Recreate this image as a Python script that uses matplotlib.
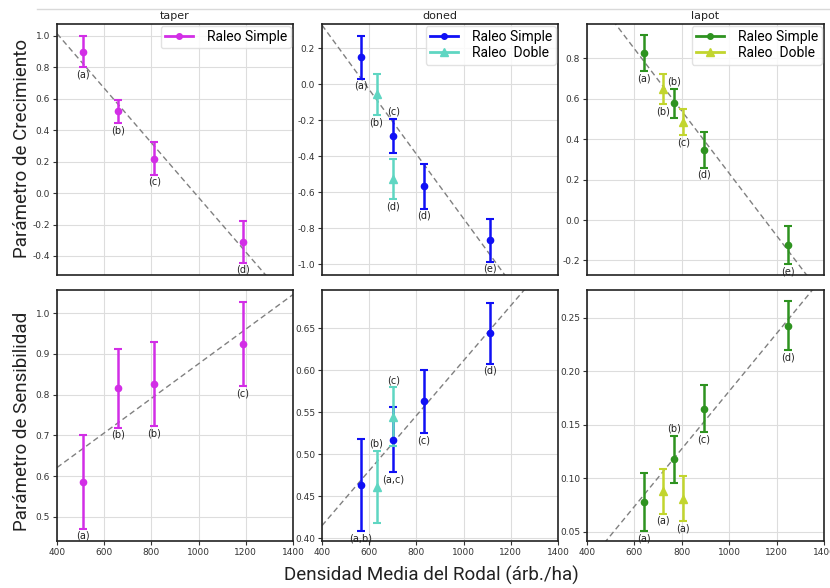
import matplotlib
matplotlib.use('Agg')
import matplotlib.pyplot as plt
from matplotlib.lines import Line2D
import numpy as np

# --- data (densidad media del rodal, arb./ha) ---
dens_taper = [510, 660, 813, 1188]
dens_doned_simple = [565, 702, 832, 1111]
dens_doned_doble = [631, 702]
dens_lapot_simple = [641, 766, 893, 1246]
dens_lapot_doble = [721, 806]

# parametro de crecimiento
crec_taper = [0.90, 0.52, 0.22, -0.31]
crec_taper_err = [0.10, 0.075, 0.104, 0.133]
crec_taper_lbl = ['(a)', '(b)', '(c)', '(d)']
crec_taper_side = ['below', 'below', 'below', 'below']

crec_doned_simple = [0.150, -0.287, -0.567, -0.869]
crec_doned_simple_err = [0.12, 0.095, 0.125, 0.118]
crec_doned_simple_lbl = ['(a)', '(c)', '(d)', '(e)']
crec_doned_simple_side = ['below', 'above', 'below', 'below']
crec_doned_doble = [-0.057, -0.528]
crec_doned_doble_err = [0.115, 0.11]
crec_doned_doble_lbl = ['(b)', '(d)']
crec_doned_doble_side = ['below', 'below']

crec_lapot_simple = [0.825, 0.577, 0.346, -0.124]
crec_lapot_simple_err = [0.09, 0.072, 0.088, 0.096]
crec_lapot_simple_lbl = ['(a)', '(b)', '(d)', '(e)']
crec_lapot_simple_side = ['below', 'above', 'below', 'below']
crec_lapot_doble = [0.649, 0.484]
crec_lapot_doble_err = [0.076, 0.065]
crec_lapot_doble_lbl = ['(b)', '(c)']
crec_lapot_doble_side = ['below', 'below']

# parametro de sensibilidad
sens_taper = [0.586, 0.816, 0.826, 0.924]
sens_taper_err = [0.115, 0.097, 0.103, 0.103]
sens_taper_lbl = ['(a)', '(b)', '(b)', '(c)']
sens_taper_side = ['below', 'below', 'below', 'below']

sens_doned_simple = [0.4635, 0.5175, 0.563, 0.644]
sens_doned_simple_err = [0.055, 0.039, 0.038, 0.036]
sens_doned_simple_lbl = ['(a,b)', '(a,c)', '(c)', '(d)']
sens_doned_simple_side = ['below', 'below', 'below', 'below']
sens_doned_doble = [0.461, 0.545]
sens_doned_doble_err = [0.043, 0.035]
sens_doned_doble_lbl = ['(b)', '(c)']
sens_doned_doble_side = ['above', 'above']

sens_lapot_simple = [0.078, 0.118, 0.165, 0.2425]
sens_lapot_simple_err = [0.027, 0.022, 0.022, 0.023]
sens_lapot_simple_lbl = ['(a)', '(b)', '(c)', '(d)']
sens_lapot_simple_side = ['below', 'above', 'below', 'below']
sens_lapot_doble = [0.088, 0.081]
sens_lapot_doble_err = [0.021, 0.021]
sens_lapot_doble_lbl = ['(a)', '(a)']
sens_lapot_doble_side = ['below', 'below']

titles = ['taper', 'doned', 'lapot']
col_simple = ['#d22ee6', '#1010f5', '#2e9320']
col_doble = [None, '#5fd6c2', '#c2d52e']

# panel layout in figure pixels (left, top, right, bottom)
W, H = 830, 588
cols = [(57, 293), (322, 558), (587, 824)]
rows = [(24, 275), (290, 541)]

ylims = [[(-0.521, 1.076), (-1.061, 0.335), (-0.272, 0.970)],
         [(0.441, 1.057), (0.397, 0.6956), (0.0416, 0.2758)]]
yticks = [[np.arange(-0.4, 1.01, 0.2), np.arange(-1.0, 0.21, 0.2), np.arange(-0.2, 0.81, 0.2)],
          [np.arange(0.5, 1.01, 0.1), np.arange(0.40, 0.651, 0.05), np.arange(0.05, 0.251, 0.05)]]
yfmt = [['%.1f', '%.1f', '%.1f'], ['%.1f', '%.2f', '%.2f']]

fig = plt.figure(figsize=(W / 100, H / 100), dpi=100)


def label_points(ax, x, y, err, lbls, sides):
    for xi, yi, ei, lb, sd in zip(x, y, err, lbls, sides):
        if sd == 'below':
            ax.annotate(lb, (xi, yi - ei), xytext=(0, -1.5), textcoords='offset points',
                        ha='center', va='top', fontsize=7, color='#222222')
        else:
            ax.annotate(lb, (xi, yi + ei), xytext=(0, 1.5), textcoords='offset points',
                        ha='center', va='bottom', fontsize=7, color='#222222')


def draw_series(ax, x, y, err, color, marker):
    ax.errorbar(x, y, yerr=err, color=color, marker=marker, markersize=4.5 if marker == 'o' else 5.5,
                linestyle='none', elinewidth=1.8, capsize=3, capthick=1.5, zorder=3)
    # legend handle: plain line with marker
    return Line2D([], [], color=color, marker=marker, markersize=4 if marker == 'o' else 5.5, linewidth=2)


panels = [
    [(dens_taper, crec_taper, crec_taper_err, crec_taper_lbl, crec_taper_side, None),
     (dens_doned_simple, crec_doned_simple, crec_doned_simple_err, crec_doned_simple_lbl, crec_doned_simple_side,
      (dens_doned_doble, crec_doned_doble, crec_doned_doble_err, crec_doned_doble_lbl, crec_doned_doble_side)),
     (dens_lapot_simple, crec_lapot_simple, crec_lapot_simple_err, crec_lapot_simple_lbl, crec_lapot_simple_side,
      (dens_lapot_doble, crec_lapot_doble, crec_lapot_doble_err, crec_lapot_doble_lbl, crec_lapot_doble_side))],
    [(dens_taper, sens_taper, sens_taper_err, sens_taper_lbl, sens_taper_side, None),
     (dens_doned_simple, sens_doned_simple, sens_doned_simple_err, sens_doned_simple_lbl, sens_doned_simple_side,
      (dens_doned_doble, sens_doned_doble, sens_doned_doble_err, sens_doned_doble_lbl, sens_doned_doble_side)),
     (dens_lapot_simple, sens_lapot_simple, sens_lapot_simple_err, sens_lapot_simple_lbl, sens_lapot_simple_side,
      (dens_lapot_doble, sens_lapot_doble, sens_lapot_doble_err, sens_lapot_doble_lbl, sens_lapot_doble_side))],
]

legend_font = ['Roboto', 'DejaVu Sans']

for r in range(2):
    for c in range(3):
        l, rr = cols[c]
        t, b = rows[r]
        ax = fig.add_axes([l / W, 1 - b / H, (rr - l) / W, (b - t) / H])
        x, y, err, lbls, sides, doble = panels[r][c]

        # linear trend fitted on the single-thinning series
        slope, icpt = np.polyfit(x, y, 1)
        xl = np.array([400, 1400])
        ax.plot(xl, slope * xl + icpt, linestyle=(0, (4, 2.5)), color='#808080', linewidth=1.0, zorder=2)

        handles = [draw_series(ax, x, y, err, col_simple[c], 'o')]
        names = ['Raleo Simple']
        label_points(ax, x, y, err, lbls, sides)
        if doble is not None:
            dx, dy, de, dl, ds = doble
            handles.append(draw_series(ax, dx, dy, de, col_doble[c], '^'))
            names.append('Raleo  Doble')
            label_points(ax, dx, dy, de, dl, ds)

        ax.set_xlim(400, 1400)
        ax.set_ylim(*ylims[r][c])
        ax.set_xticks(np.arange(400, 1401, 200))
        ax.set_yticks(yticks[r][c])
        ax.set_yticklabels([yfmt[r][c] % v if abs(v) > 1e-9 else yfmt[r][c] % 0 for v in yticks[r][c]])
        ax.grid(True, color='#dddddd', linewidth=0.8)
        ax.set_axisbelow(True)
        for sp in ax.spines.values():
            sp.set_linewidth(1.2)
            sp.set_color('#222222')
        ax.tick_params(labelsize=6.5, length=3, width=0.8, colors='#333333', pad=2)
        if r == 0:
            ax.tick_params(axis='x', labelbottom=False, length=0)
            ax.set_title(titles[c], fontsize=8, pad=3.5, color='#222222')
            leg = ax.legend(handles, names, loc='upper right', bbox_to_anchor=(1.0, 1.0), borderaxespad=0.15,
                            prop={'family': legend_font, 'size': 10}, handlelength=2.0,
                            labelspacing=0.15, borderpad=0.3, handletextpad=1.0,
                            framealpha=0.85, edgecolor='#dddddd', fancybox=True)
            leg.set_zorder(5)

fig.text(22 / W, 1 - 148 / H, 'Parámetro de Crecimiento', rotation=90, ha='center', va='center',
         fontsize=13.5, family=legend_font, color='#222222')
fig.text(22 / W, 1 - 421 / H, 'Parámetro de Sensibilidad', rotation=90, ha='center', va='center',
         fontsize=13.5, family=legend_font, color='#222222')
fig.text(431 / W, 1 - 575 / H, 'Densidad Media del Rodal (árb./ha)', ha='center', va='center',
         fontsize=13.5, family=legend_font, color='#222222')

# faint separator line left from the original screenshots
fig.add_artist(Line2D([37 / W, 1.0], [1 - 9 / H, 1 - 9 / H], color='#d9d9d9', linewidth=1.0))

fig.savefig('out.png', dpi=100)
